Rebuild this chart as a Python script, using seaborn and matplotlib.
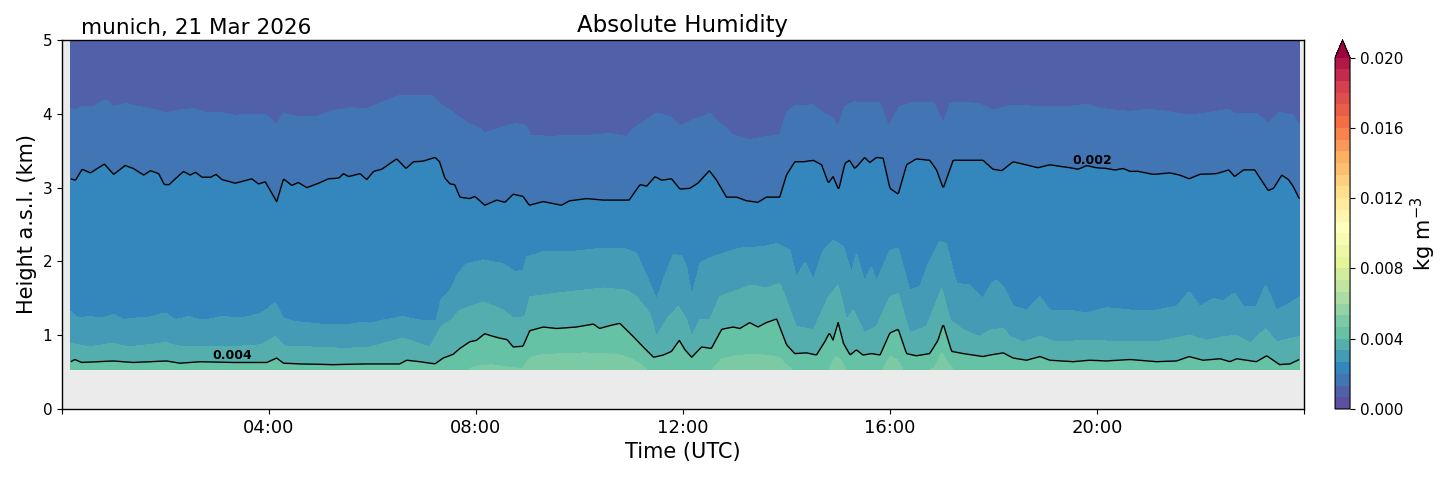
import numpy as np
import matplotlib
matplotlib.use("Agg")
import matplotlib.pyplot as plt
from matplotlib.colors import BoundaryNorm
import seaborn as sns

# ---------------- data ----------------
station_title = "munich, 21 Mar 2026"
chart_title = "Absolute Humidity"
data_start_h = 0.17      # first profile (hours UTC)
data_end_h = 23.91       # last profile
lowest_gate_km = 0.54    # lowest height with data
top_km = 5.2
top_value = 0.0009       # humidity near 5 km (kg m-3)
below_value = 0.0050     # humidity in the lightest near-ground cells

# heights (km) of the 0.00133 kg m-3 boundary
t_a = [0.17, 0.28, 0.38, 0.61, 0.85, 0.99, 1.25, 1.38, 1.70, 2.02, 2.28, 2.54, 2.80, 3.05, 3.31,
       3.83, 3.96, 4.14, 4.28, 4.60, 4.92, 5.24, 5.57, 5.89, 6.21, 6.53, 7.14, 7.33, 7.50, 7.66,
       7.85, 8.08, 8.17, 8.40, 8.66, 8.78, 8.98, 9.04, 9.43, 9.81, 10.20, 10.59, 10.91, 11.04,
       11.30, 11.49, 11.75, 11.94, 12.20, 12.52, 12.78, 12.97, 13.29, 13.61, 13.87, 14.00, 14.16,
       14.52, 14.71, 14.87, 15.00, 15.13, 15.29, 15.80, 15.97, 16.19, 16.45, 16.84, 17.03, 17.16,
       17.42, 17.74, 17.99, 18.32, 18.90, 19.48, 19.80, 20.06, 20.64, 20.96, 21.28, 21.79, 22.12,
       22.55, 22.66, 23.08, 23.31, 23.53, 23.79, 23.91]
h_a = [4.07, 4.05, 4.10, 4.10, 4.19, 4.10, 4.14, 4.11, 4.07, 4.01, 4.05, 4.07, 4.01, 4.02, 3.98,
       3.99, 3.98, 3.85, 4.00, 3.96, 3.96, 4.04, 4.08, 4.07, 4.16, 4.25, 4.25, 4.12, 4.05, 3.96,
       3.87, 3.80, 3.74, 3.79, 3.85, 3.87, 3.83, 3.71, 3.69, 3.71, 3.71, 3.73, 3.69, 3.80,
       3.92, 4.01, 3.96, 3.83, 3.92, 4.00, 3.83, 3.71, 3.65, 3.69, 3.71, 4.01, 4.11,
       4.12, 4.01, 3.96, 3.83, 4.10, 4.16, 4.15, 3.83, 4.10, 4.15, 4.15, 3.87, 4.14,
       4.16, 4.13, 4.05, 4.11, 4.10, 4.10, 4.13, 4.07, 4.03, 4.06, 4.04, 3.98, 4.01,
       4.06, 4.00, 4.01, 3.87, 4.02, 3.98, 3.85]

# heights (km) of the 0.002 kg m-3 contour (black line)
t_b = [0.17, 0.26, 0.39, 0.55, 0.82, 1.00, 1.22, 1.38, 1.58, 1.71, 1.87, 1.98, 2.07, 2.19, 2.35,
       2.48, 2.58, 2.71, 2.87, 2.98, 3.09, 3.35, 3.51, 3.67, 3.80, 3.93, 4.06, 4.15, 4.28, 4.44,
       4.57, 4.73, 4.96, 5.15, 5.35, 5.44, 5.54, 5.76, 5.89, 6.02, 6.18, 6.47, 6.65, 6.79, 6.98,
       7.21, 7.30, 7.40, 7.50, 7.59, 7.69, 7.88, 7.98, 8.17, 8.40, 8.56, 8.72, 8.91, 9.03, 9.30,
       9.65, 9.81, 10.14, 10.46, 10.96, 11.17, 11.30, 11.46, 11.59, 11.78, 11.94, 12.13, 12.29,
       12.51, 12.65, 12.84, 13.04, 13.23, 13.45, 13.61, 13.87, 14.00, 14.16, 14.32, 14.52, 14.68,
       14.81, 14.90, 15.01, 15.13, 15.22, 15.32, 15.39, 15.51, 15.61, 15.74, 15.87, 16.00, 16.16,
       16.32, 16.51, 16.77, 16.90, 17.03, 17.22, 17.54, 17.80, 17.99, 18.16, 18.38, 18.57, 18.86,
       19.09, 19.28, 19.48, 19.64, 19.80, 19.99, 20.18, 20.35, 20.51, 20.64, 20.80, 21.09, 21.41,
       21.60, 21.78, 21.99, 22.31, 22.55, 22.66, 22.83, 23.05, 23.18, 23.31, 23.41, 23.57, 23.70,
       23.79, 23.91]
h_b = [3.12, 3.10, 3.25, 3.20, 3.32, 3.18, 3.30, 3.26, 3.17, 3.23, 3.19, 3.04, 3.04, 3.12, 3.22,
       3.17, 3.21, 3.14, 3.14, 3.18, 3.11, 3.06, 3.09, 3.12, 3.05, 3.08, 2.92, 2.81, 3.12, 3.03,
       3.07, 3.00, 3.06, 3.12, 3.13, 3.19, 3.15, 3.19, 3.11, 3.22, 3.25, 3.39, 3.26, 3.35, 3.36,
       3.41, 3.35, 3.13, 3.05, 3.04, 2.87, 2.85, 2.88, 2.76, 2.83, 2.80, 2.91, 2.88, 2.76, 2.81,
       2.76, 2.82, 2.85, 2.83, 2.83, 3.04, 3.02, 3.15, 3.10, 3.12, 2.98, 2.99, 3.06,
       3.23, 3.10, 2.87, 2.87, 2.82, 2.80, 2.87, 2.87, 3.17, 3.35, 3.35, 3.37, 3.31,
       3.06, 3.15, 2.97, 3.33, 3.37, 3.26, 3.31, 3.41, 3.34, 3.41, 3.40, 2.99, 2.91,
       3.31, 3.39, 3.37, 3.24, 2.99, 3.37, 3.37, 3.37, 3.25, 3.23, 3.35, 3.32, 3.27,
       3.31, 3.29, 3.27, 3.25, 3.30, 3.27, 3.26, 3.24, 3.26, 3.22, 3.22, 3.18, 3.20,
       3.17, 3.12, 3.18, 3.19, 3.24, 3.15, 3.24, 3.24, 3.10, 2.96, 2.99, 3.17, 3.11,
       3.02, 2.85]

# heights (km) of the 0.00267 kg m-3 boundary
t_c = [0.17, 0.32, 0.52, 0.77, 1.00, 1.19, 1.42, 1.67, 2.00, 2.19, 2.45, 2.71, 3.09, 3.48, 3.86,
       4.12, 4.28, 4.51, 4.83, 5.15, 5.48, 5.80, 5.95, 6.27, 6.59, 6.92, 7.24, 7.33, 7.50, 7.66,
       7.82, 8.14, 8.53, 8.75, 8.91, 8.98, 9.30, 9.81, 10.46, 10.85, 11.10, 11.33, 11.49, 11.62,
       11.81, 11.97, 12.07, 12.17, 12.33, 12.52, 12.78, 13.10, 13.55, 13.81, 14.07, 14.19, 14.36,
       14.52, 14.71, 14.90, 15.10, 15.26, 15.35, 15.51, 15.64, 15.74, 16.00, 16.16, 16.38, 16.58,
       16.74, 16.96, 17.09, 17.29, 17.54, 17.80, 17.96, 18.06, 18.19, 18.38, 18.64, 18.90, 19.09,
       19.41, 19.80, 20.18, 20.64, 21.15, 21.54, 21.78, 21.99, 22.25, 22.44, 22.66, 22.83, 23.08,
       23.26, 23.47, 23.73, 23.91]
h_c = [1.32, 1.23, 1.25, 1.23, 1.28, 1.21, 1.23, 1.24, 1.30, 1.21, 1.25, 1.20, 1.25, 1.23, 1.30,
       1.44, 1.23, 1.18, 1.16, 1.14, 1.14, 1.17, 1.16, 1.21, 1.25, 1.20, 1.19, 1.48, 1.61, 1.84,
       1.97, 2.02, 1.97, 1.86, 1.88, 2.06, 2.13, 2.13, 2.18, 2.18, 2.11, 1.75, 1.48, 1.75,
       2.09, 2.08, 1.93, 1.52, 1.98, 2.05, 2.11, 2.18, 2.20, 2.24, 2.15, 1.79, 1.99,
       1.75, 2.15, 2.29, 2.20, 1.84, 2.11, 1.73, 1.93, 1.73, 2.15, 2.18, 1.61, 1.66,
       1.97, 2.27, 2.24, 1.70, 1.68, 1.50, 1.70, 1.75, 1.66, 1.39, 1.34, 1.52, 1.34,
       1.34, 1.30, 1.37, 1.34, 1.34, 1.39, 1.59, 1.39, 1.50, 1.46, 1.57, 1.39, 1.39,
       1.68, 1.34, 1.43, 1.52]

# heights (km) of the 0.00333 kg m-3 boundary
t_d = [0.17, 0.52, 0.97, 1.29, 1.67, 2.00, 2.32, 2.71, 3.22, 3.86, 4.12, 4.32, 4.83, 5.48, 5.95,
       6.59, 7.11, 7.33, 7.53, 7.69, 8.14, 8.53, 8.72, 8.95, 9.04, 9.56, 10.46, 10.91, 11.10,
       11.36, 11.49, 11.68, 11.91, 12.07, 12.17, 12.33, 12.52, 12.71, 13.04, 13.32, 13.61, 13.87,
       14.00, 14.19, 14.52, 14.81, 15.00, 15.16, 15.29, 15.51, 15.74, 16.00, 16.16, 16.38, 16.71,
       17.00, 17.16, 17.42, 17.74, 17.93, 18.19, 18.32, 18.57, 18.90, 19.22, 19.86, 20.51, 21.15,
       21.79, 22.12, 22.44, 22.70, 22.96, 23.26, 23.47, 23.91]
h_d = [0.89, 0.84, 0.89, 0.84, 0.87, 0.90, 0.84, 0.85, 0.84, 0.87, 0.98, 0.84, 0.84, 0.82, 0.84,
       0.96, 0.84, 1.12, 1.21, 1.34, 1.45, 1.34, 1.23, 1.25, 1.52, 1.57, 1.64, 1.61, 1.52,
       1.30, 0.98, 1.21, 1.39, 1.21, 0.98, 1.21, 1.21, 1.52, 1.61, 1.68, 1.64, 1.70,
       1.48, 1.12, 1.07, 1.52, 1.68, 1.21, 1.34, 1.03, 1.12, 1.52, 1.57, 1.03, 1.12,
       1.64, 1.21, 1.07, 0.98, 1.07, 1.09, 0.98, 0.91, 0.98, 0.91, 0.93, 0.91, 0.91,
       1.00, 0.93, 0.98, 1.00, 0.89, 1.09, 0.91, 0.98]

# heights (km) of the 0.004 kg m-3 contour (black line)
t_e = [0.17, 0.25, 0.38, 0.99, 1.38, 2.02, 2.28, 2.67, 3.31, 3.96, 4.15, 4.28, 4.60, 5.24, 5.89,
       6.53, 6.66, 6.92, 7.21, 7.37, 7.56, 7.69, 7.88, 8.01, 8.17, 8.30, 8.46, 8.60, 8.72, 8.91,
       9.04, 9.30, 9.56, 9.94, 10.27, 10.39, 10.59, 10.78, 11.04, 11.23, 11.43, 11.62, 11.78,
       11.93, 12.04, 12.17, 12.36, 12.55, 12.75, 12.97, 13.10, 13.29, 13.45, 13.61, 13.81, 14.00,
       14.16, 14.39, 14.58, 14.74, 14.83, 14.90, 15.00, 15.10, 15.23, 15.35, 15.48, 15.64, 15.81,
       16.00, 16.16, 16.32, 16.51, 16.77, 16.93, 17.03, 17.19, 17.42, 17.80, 17.93, 18.19, 18.38,
       18.64, 18.90, 19.09, 19.54, 19.86, 20.18, 20.64, 21.15, 21.54, 21.78, 22.05, 22.38, 22.57,
       22.70, 23.08, 23.28, 23.53, 23.73, 23.91]
h_e = [0.64, 0.67, 0.63, 0.65, 0.63, 0.65, 0.62, 0.64, 0.63, 0.63, 0.69, 0.62, 0.61, 0.60, 0.61,
       0.61, 0.66, 0.64, 0.61, 0.69, 0.74, 0.82, 0.91, 0.93, 1.02, 0.99, 0.96, 0.94, 0.84, 0.85,
       1.06, 1.11, 1.09, 1.11, 1.15, 1.09, 1.13, 1.16, 0.98, 0.84, 0.70, 0.73, 0.78,
       0.93, 0.80, 0.70, 0.84, 0.82, 1.08, 1.11, 1.09, 1.17, 1.11, 1.17, 1.22, 0.87,
       0.75, 0.76, 0.73, 0.91, 1.03, 0.93, 1.17, 0.89, 0.73, 0.80, 0.73, 0.75, 0.73,
       1.03, 1.08, 0.75, 0.72, 0.75, 0.93, 1.15, 0.78, 0.75, 0.71, 0.73, 0.76, 0.69,
       0.66, 0.71, 0.66, 0.64, 0.66, 0.65, 0.67, 0.64, 0.65, 0.71, 0.66, 0.68, 0.64,
       0.68, 0.64, 0.72, 0.60, 0.61, 0.67]

# heights (km) of the 0.00467 kg m-3 boundary (below the data where not shown)
t_f = [0.17, 7.60, 7.80, 8.00, 8.30, 8.60, 8.90, 9.05, 9.30, 9.70, 10.10, 10.50, 10.80, 11.00,
       11.20, 11.40, 12.50, 12.75, 13.00, 13.30, 13.60, 13.85, 14.00, 14.20, 14.80, 14.95, 15.05,
       15.20, 15.85, 16.00, 16.15, 16.30, 16.85, 17.00, 17.10, 17.30, 23.91]
h_f = [0.45, 0.45, 0.52, 0.58, 0.60, 0.57, 0.55, 0.70, 0.74, 0.75, 0.76, 0.75, 0.73, 0.68,
       0.60, 0.48, 0.48, 0.68, 0.72, 0.74, 0.73, 0.70, 0.60, 0.48, 0.50, 0.72, 0.66,
       0.48, 0.52, 0.72, 0.66, 0.48, 0.55, 0.77, 0.64, 0.48, 0.45]

label_002 = (19.9, 3.27)
label_004 = (3.3, 0.63)
x_tick_hours = [0, 4, 8, 12, 16, 20, 24]
x_tick_labels = ["", "04:00", "08:00", "12:00", "16:00", "20:00", ""]
cbar_ticks = [0.000, 0.004, 0.008, 0.012, 0.016, 0.020]

# ---------------- style ----------------
sns.set_style("ticks", {"axes.facecolor": "#ebebeb", "axes.edgecolor": "black",
                        "xtick.color": "black", "ytick.color": "black",
                        "text.color": "black", "axes.labelcolor": "black"})
plt.rcParams["font.family"] = ["DejaVu Sans"]

levels = np.linspace(0.0, 0.02, 31)
cmap = sns.color_palette("Spectral_r", as_cmap=True)
norm = BoundaryNorm(levels, ncolors=cmap.N, extend="max")

# ---------------- build the field from the read boundaries ----------------
times = np.linspace(data_start_h, data_end_h, 1200)
heights = np.arange(lowest_gate_km, top_km + 1e-9, 0.01)
ha = np.interp(times, t_a, h_a)
hb = np.interp(times, t_b, h_b)
hc = np.interp(times, t_c, h_c)
hd = np.interp(times, t_d, h_d)
he = np.interp(times, t_e, h_e)
hf = np.minimum(np.interp(times, t_f, h_f), he - 0.03)

field = np.empty((heights.size, times.size))
for j in range(times.size):
    zs = [hf[j] - 0.3, hf[j], he[j], hd[j], hc[j], hb[j], ha[j], top_km]
    vs = [below_value, levels[7], levels[6], levels[5], levels[4], levels[3], levels[2], top_value]
    field[:, j] = np.interp(heights, zs, vs)

T, H = np.meshgrid(times, heights)

# ---------------- figure ----------------
fig = plt.figure(figsize=(14.54, 4.78), dpi=100)
ax = fig.add_axes([0.0426, 0.1444, 0.8542, 0.7720])
cax = fig.add_axes([0.9182, 0.1444, 0.0103, 0.7720])

cf = ax.contourf(T, H, field, levels=levels, cmap=cmap, norm=norm, extend="max")
cl = ax.contour(T, H, field, levels=[levels[3], levels[6]], colors="black", linewidths=1.0)
labels = ax.clabel(cl, fmt="%.3f", fontsize=9, inline=False, manual=[label_004, label_002])
for txt in labels:
    x, y = txt.get_position()
    txt.set_position((x, y + 0.09))
    txt.set_rotation(0)
    txt.set_fontweight("bold")
    txt.set_color("black")

ax.set_xlim(0, 24)
ax.set_ylim(0, 5)
ax.set_xticks(x_tick_hours)
ax.set_xticklabels(x_tick_labels)
ax.set_yticks([0, 1, 2, 3, 4, 5])
ax.tick_params(axis="x", labelsize=13, colors="black")
ax.tick_params(axis="y", labelsize=11, colors="black")
for s in ax.spines.values():
    s.set_color("black")
    s.set_linewidth(1.0)

ax.set_xlabel("Time (UTC)", fontsize=15, color="black")
ax.set_ylabel("Height a.s.l. (km)", fontsize=15, color="black")
ax.set_title(chart_title, fontsize=16.5, pad=6, color="black")
ax.text(0.015, 1.006, station_title, transform=ax.transAxes, fontsize=15.5,
        ha="left", va="bottom", color="black")

cb = fig.colorbar(cf, cax=cax, ticks=cbar_ticks, format="%.3f")
cb.ax.minorticks_off()
cb.ax.tick_params(labelsize=11, colors="black")
cb.set_label("kg m$^{-3}$", fontsize=15, color="black")
cb.outline.set_edgecolor("black")

fig.savefig("out.png", dpi=100)
